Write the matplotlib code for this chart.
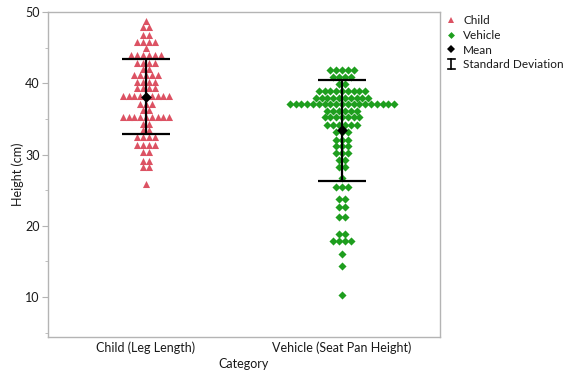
import numpy as np
import matplotlib
matplotlib.use('Agg')
import matplotlib.pyplot as plt
from matplotlib.lines import Line2D
from matplotlib.legend_handler import HandlerBase

categories = ['Child (Leg Length)', 'Vehicle (Seat Pan Height)']

child_levels = [48.8, 47.9, 46.8, 45.8, 44.9, 43.9, 42.8, 42.0, 41.1, 40.2, 39.3, 38.2,
                37.1, 36.2, 35.3, 34.3, 33.5, 32.5, 31.3, 30.3, 29.1, 28.2, 25.9]
child_counts = [1, 2, 2, 4, 1, 6, 4, 2, 5, 4, 4, 9,
                3, 2, 9, 2, 2, 4, 4, 2, 2, 2, 1]

vehicle_levels = [41.9, 40.9, 39.9, 38.9, 38.0, 37.05, 36.1, 35.2, 34.2, 33.1, 32.1, 31.2,
                  30.25, 29.3, 28.3, 26.7, 25.5, 23.7, 22.7, 21.3, 18.8, 17.8, 16.0, 14.4, 10.3]
vehicle_counts = [5, 4, 2, 9, 10, 19, 6, 7, 6, 3, 3, 3,
                  3, 2, 2, 1, 3, 2, 2, 2, 2, 4, 1, 1, 1]

means = [38.1, 33.4]
sds = [5.25, 7.05]

child_color = '#DC5263'
vehicle_color = '#1E9E1E'
spine_color = '#B4B4B4'
text_color = '#1A1A1A'

plt.rcParams['font.family'] = ['Lato', 'DejaVu Sans']

fig = plt.figure(figsize=(5.68, 3.70), dpi=100)
ax = fig.add_axes([48/568, 1-337/370, (440-48)/568, (337-12)/370])

spacing = 0.0296

def swarm(levels, counts, xc):
    xs, ys = [], []
    for v, n in zip(levels, counts):
        offs = (np.arange(n) - (n - 1) / 2.0) * spacing
        xs.extend(xc + offs)
        ys.extend([v] * n)
    return np.array(xs), np.array(ys)

cx, cy = swarm(child_levels, child_counts, 0)
vx, vy = swarm(vehicle_levels, vehicle_counts, 1)
ax.scatter(cx, cy, marker='^', s=26, color=child_color, linewidths=0, zorder=2)
ax.scatter(vx, vy, marker='D', s=17, color=vehicle_color, linewidths=0, zorder=2)

ax.errorbar([0, 1], means, yerr=sds, fmt='none', ecolor='black', elinewidth=1.6,
            capsize=17.2, capthick=1.6, zorder=3)
ax.scatter([0, 1], means, marker='D', s=30, color='black', linewidths=0, zorder=4)

ax.set_xlim(-0.5, 1.5)
ax.set_ylim(4.4, 50)
ax.set_xticks([0, 1])
ax.set_xticklabels(categories, fontsize=9, color=text_color)
ax.tick_params(axis='x', length=0, pad=3)
ax.set_yticks([10, 20, 30, 40, 50])
ax.set_yticks([5, 15, 25, 35, 45], minor=True)
ax.tick_params(axis='y', which='major', length=4, color=spine_color, labelsize=9,
               labelcolor=text_color, pad=2)
ax.tick_params(axis='y', which='minor', length=2, color=spine_color)
for sp in ax.spines.values():
    sp.set_color(spine_color)
    sp.set_linewidth(1)

ax.set_xlabel('Category', fontsize=9, color=text_color, labelpad=3)
ax.set_ylabel('Height (cm)', fontsize=9, color=text_color, labelpad=1)


class SDHandler(HandlerBase):
    def create_artists(self, legend, orig_handle, xdescent, ydescent, width, height, fontsize, trans):
        xm = width / 2 - xdescent
        y0 = -ydescent - 0.5
        y1 = height - ydescent + 0.5
        w = 2.5
        lines = [Line2D([xm, xm], [y0, y1], color='black', lw=1.2),
                 Line2D([xm - w, xm + w], [y0, y0], color='black', lw=1.2),
                 Line2D([xm - w, xm + w], [y1, y1], color='black', lw=1.2)]
        for l in lines:
            l.set_transform(trans)
        return lines


sd_handle = Line2D([], [], color='black')
handles = [Line2D([], [], marker='^', ls='none', color=child_color, markersize=4.5, markeredgewidth=0),
           Line2D([], [], marker='D', ls='none', color=vehicle_color, markersize=3.5, markeredgewidth=0),
           Line2D([], [], marker='D', ls='none', color='black', markersize=4.5, markeredgewidth=0),
           sd_handle]
labels = ['Child', 'Vehicle', 'Mean', 'Standard Deviation']
leg = fig.legend(handles, labels, loc='upper left', bbox_to_anchor=(446/568, 1 - 15/370),
                 frameon=False, fontsize=8.5, handlelength=0.9, handletextpad=0.55,
                 labelspacing=0.32, borderpad=0, borderaxespad=0,
                 handler_map={sd_handle: SDHandler()})
for t in leg.get_texts():
    t.set_color(text_color)

fig.savefig('out.png', dpi=100)
